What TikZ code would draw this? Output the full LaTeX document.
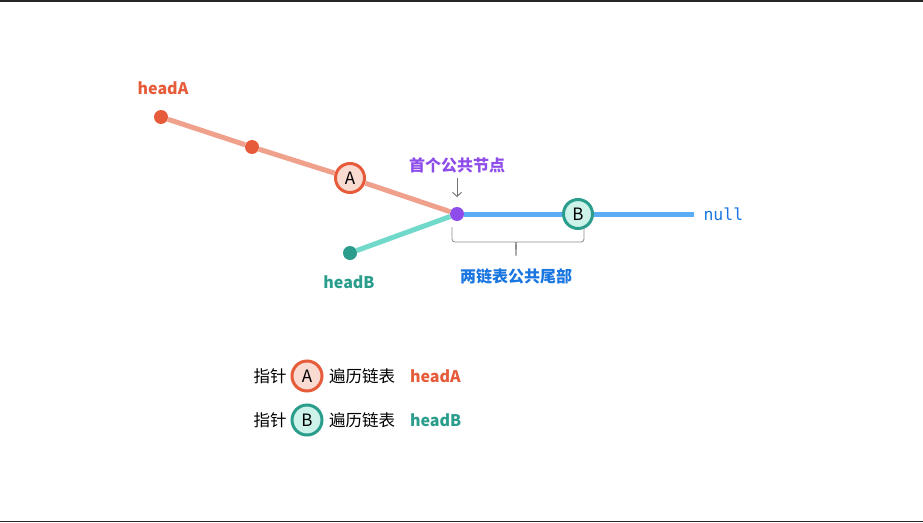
\documentclass[tikz,border=0pt]{standalone}
\usepackage{fontspec}
\setmainfont{Noto Sans CJK SC}
\newfontfamily\monofont{DejaVu Sans Mono}
\usetikzlibrary{positioning,arrows.meta}
\definecolor{orgA}{HTML}{E65C3A}
\definecolor{lineA}{HTML}{EFA18C}
\definecolor{fillA}{HTML}{FADBD2}
\definecolor{tealB}{HTML}{2A9D8C}
\definecolor{lineB}{HTML}{70D9C9}
\definecolor{fillB}{HTML}{CDF2EA}
\definecolor{purp}{HTML}{8E4CEB}
\definecolor{lineC}{HTML}{5AADF5}
\definecolor{blueT}{HTML}{1A76E0}
\tikzset{
  dot/.style={circle, fill, inner sep=0pt, minimum size=14pt},
  ptr/.style={circle, line width=3pt, inner sep=0pt, minimum size=29pt, font=\fontsize{17}{17}\selectfont},
  lbl/.style={font=\fontsize{16}{18}\selectfont\bfseries},
  txt/.style={font=\fontsize{16.5}{18}\selectfont}
}
\begin{document}
\begin{tikzpicture}[x=1pt,y=-1pt]
\useasboundingbox (0,0) rectangle (923,522);
\fill[white] (0,0) rectangle (923,522);
\draw[line width=1.5pt, black!85] (0,0.75) -- (923,0.75);
\draw[line width=1.5pt, black!85] (0,521.25) -- (923,521.25);
% list A
\node[dot, orgA] (hA) at (161,117) {};
\node[dot, orgA] (a2) at (252,147) {};
\node[ptr, draw=orgA, fill=fillA] (pA) at (350,178) {A};
\node[dot, purp] (cross) at (457,214) {};
% list B and common tail
\node[dot, tealB] (hB) at (350,253) {};
\node[ptr, draw=tealB, fill=fillB] (pB) at (578,214) {B};
\coordinate (tail) at (694,214);
\draw[line width=5pt, lineA] (hA) -- (a2) -- (pA) -- (cross);
\draw[line width=5pt, lineB] (hB) -- (cross);
\draw[line width=5pt, lineC] (cross) -- (pB) -- (tail);
\node[lbl, orgA] (labA) at (163,88) {headA};
\node[lbl, tealB] (labB) at (349,282) {headB};
\node[right=6pt of tail, blueT, font=\monofont\fontsize{16.5}{17}\selectfont] (nul) {null};
\node[lbl, purp] (first) at (457,165) {首个公共节点};
\coordinate (arrtop) at (457,178);
\draw[-{Straight Barb[length=4pt,width=9pt]}, black!55, line width=0.9pt] (arrtop) -- ++(0,19);
% brace under the tail
\draw[black!45, line width=0.8pt, rounded corners=3pt]
  (452,227) |- (512,242) to[out=0,in=90] (516,256);
\draw[black!45, line width=0.8pt, rounded corners=3pt]
  (584,227) |- (520,242) to[out=180,in=90] (516,256);
\node[lbl, blueT] (common) at (516,276) {两链表公共尾部};
% legend
\node[txt] (z1) at (270,376) {指针};
\node[ptr, draw=orgA, fill=fillA, minimum size=30pt] (lA) at (307,376) {A};
\node[txt, right=2pt of lA] (w1) {遍历链表};
\node[lbl, orgA, right=8pt of w1] (k1) {headA};
\node[txt] (z2) at (270,420) {指针};
\node[ptr, draw=tealB, fill=fillB, minimum size=30pt] (lB) at (307,420) {B};
\node[txt, right=2pt of lB] (w2) {遍历链表};
\node[lbl, tealB, right=8pt of w2] (k2) {headB};
\end{tikzpicture}
\end{document}
